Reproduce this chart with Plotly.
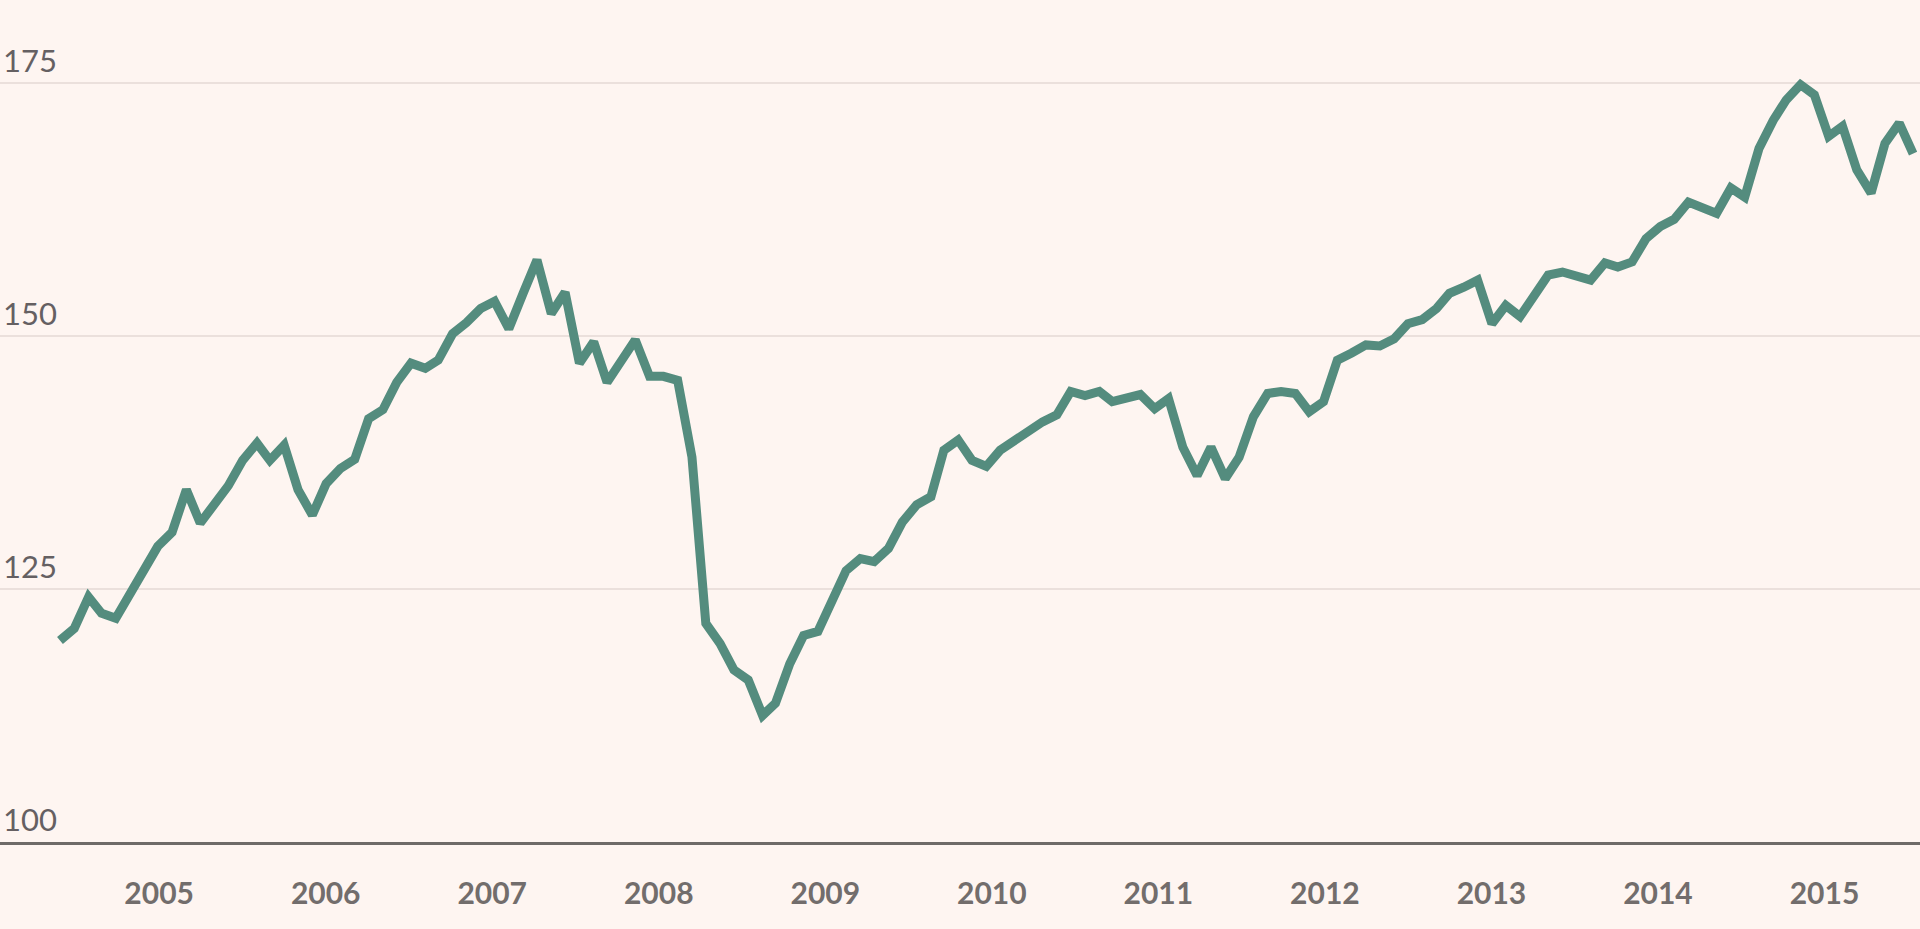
import plotly.graph_objects as go
import pandas as pd

# Monthly index values, Dec 2004 - Dec 2015
values = [
    119.9, 121.1, 124.2, 122.6, 122.1, 124.5, 127.2, 129.2, 130.6, 134.8, 131.5, 133.4,
    135.2, 137.7, 139.4, 137.7, 139.2, 134.8, 132.3, 135.4, 136.9, 137.8, 141.8, 142.7,
    145.4, 147.3, 146.8, 147.6, 150.2, 151.3, 152.7, 153.4, 150.7, 154.2, 157.5, 152.2,
    154.3, 147.3, 149.4, 145.4, 147.6, 149.6, 146.0, 146.0, 145.6, 138.0, 121.6, 119.6,
    117.0, 116.0, 112.5, 113.7, 117.6, 120.4, 120.8, 123.7, 126.8, 128.0, 127.7, 129.0,
    131.6, 133.3, 134.1, 138.7, 139.7, 137.7, 137.1, 138.7, 139.7, 140.8, 141.5, 142.2,
    144.5, 144.1, 144.5, 143.5, 143.8, 144.2, 142.8, 143.8, 139.0, 136.2, 139.0, 135.9,
    138.0, 142.0, 144.3, 144.5, 144.3, 142.5, 143.5, 147.6, 148.3, 149.1, 149.0, 149.7,
    151.2, 151.6, 152.7, 154.2, 154.8, 155.5, 151.2, 153.0, 151.9, 154.0, 156.0, 156.3,
    155.9, 155.5, 157.2, 156.8, 157.3, 159.6, 160.8, 161.5, 163.2, 162.7, 162.1, 164.6,
    163.7, 168.5, 171.3, 173.3, 174.8, 173.8, 169.7, 170.7, 166.4, 164.1, 169.0, 171.0,
    168.0,
]
dates = pd.date_range("2004-12-01", periods=len(values), freq="MS")

year_labels = ["2005", "2006", "2007", "2008", "2009", "2010",
               "2011", "2012", "2013", "2014", "2015"]
# label anchor dates (as placed in the original chart)
year_ticks = ["2005-07-04", "2006-06-30", "2007-06-26", "2008-06-21", "2009-06-17",
              "2010-06-13", "2011-06-09", "2012-06-04", "2013-05-31", "2014-05-27",
              "2015-05-23"]
y_ticks = [100, 125, 150, 175]

BG = "#fef5f1"
LINE = "#548c7e"
TEXT = "#656062"

fig = go.Figure()
fig.add_trace(go.Scatter(
    x=dates, y=values, mode="lines",
    line=dict(color=LINE, width=9),
    hoverinfo="skip",
))

fig.update_layout(
    width=1920, height=929,
    paper_bgcolor=BG, plot_bgcolor=BG,
    margin=dict(l=0, r=0, t=0, b=87),
    showlegend=False,
    font=dict(family="Lato, sans-serif", color=TEXT, size=30),
)
fig.update_xaxes(
    type="date",
    range=["2004-07-24", "2015-12-16"],
    tickvals=year_ticks, ticktext=year_labels,
    showgrid=False, zeroline=False,
    showline=True, linecolor="#6e6a68", linewidth=3,
    ticks="", ticklabelstandoff=23,
    tickfont=dict(family="Lato, sans-serif", size=30, color="#726d6c", weight="bold"),
)
fig.update_yaxes(
    range=[100, 183.17],
    tickvals=y_ticks, ticktext=[str(v) for v in y_ticks],
    ticklabelposition="inside top",
    showgrid=True, gridcolor="#ebe0dc", gridwidth=2,
    zeroline=False, showline=False, ticks="",
    tickfont=dict(family="Lato, sans-serif", size=31, color=TEXT),
)

fig.write_html(
    "out.html",
    config={"displayModeBar": False},
    post_script="document.body.style.margin='0';document.body.style.background='%s';" % BG,
)
